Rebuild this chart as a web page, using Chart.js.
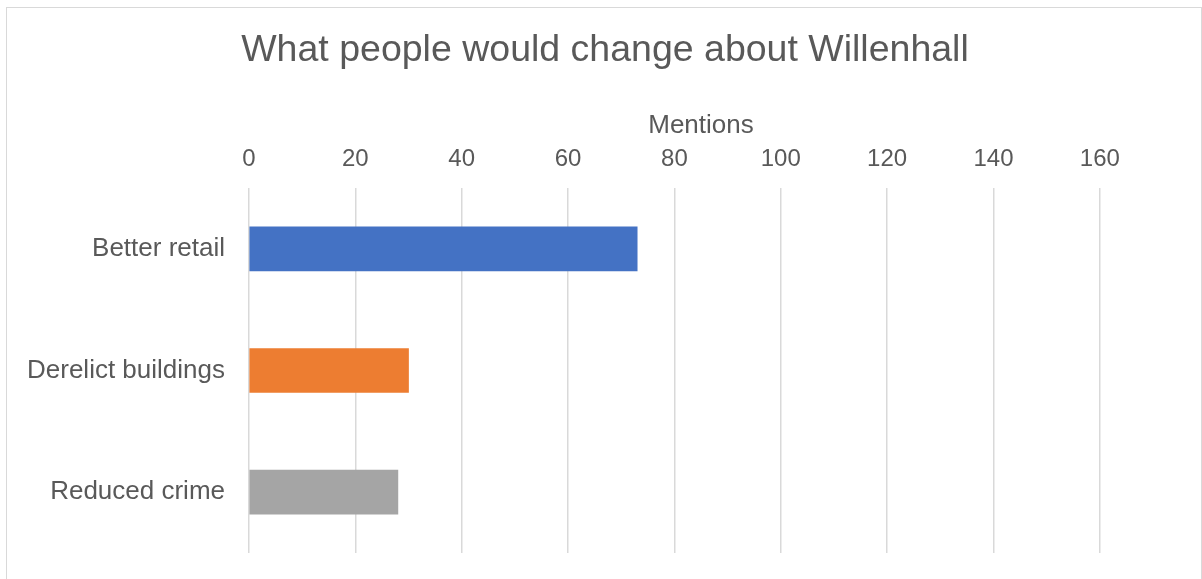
<!DOCTYPE html>
<html>
<head>
<meta charset="utf-8">
<title>What people would change about Willenhall</title>
<script src="https://cdn.jsdelivr.net/npm/chart.js@4/dist/chart.umd.min.js"></script>
<style>
    html, body { margin: 0; padding: 0; background: #fff; }
    #wrap { position: relative; width: 1202px; height: 579px; overflow: hidden; }
    #frame {
        position: absolute; left: 6px; top: 7px; width: 1194px; height: 600px;
        border: 1px solid #d9d9d9; pointer-events: none;
    }
    canvas { position: absolute; left: 0; top: 0; }
</style>
</head>
<body>
<div id="wrap">
    <canvas id="changeChart" width="1202" height="579"></canvas>
    <div id="frame"></div>
</div>
<script>
const chartTitle = "What people would change about Willenhall";
const categories = ["Better retail", "Derelict buildings", "Reduced crime"];
const mentions = [73, 30, 28];
const barColors = ["#4472C4", "#ED7D31", "#A5A5A5"];
const axisMax = 170;
const axisStep = 20;

const textColor = "#595959";
const gridColor = "#d9d9d9";
const fontFamily = "'Liberation Sans', Arial, sans-serif";

// title centred on the whole frame, not on the axis box
const frameTitle = {
    id: "frameTitle",
    afterDraw(chart) {
        const ctx = chart.ctx;
        ctx.save();
        ctx.fillStyle = textColor;
        ctx.font = "37.5px " + fontFamily;
        ctx.textAlign = "center";
        ctx.textBaseline = "middle";
        ctx.fillText(chartTitle, chart.width / 2 + 4, 51);
        ctx.restore();
    }
};

function loadChangeChart() {
    const canvas = document.getElementById("changeChart");
    if (!canvas) return;
    const ctx = canvas.getContext("2d");
    new Chart(ctx, {
        type: "bar",
        data: {
            labels: categories,
            datasets: [{
                label: "Mentions",
                data: mentions,
                backgroundColor: barColors,
                barThickness: 44
            }]
        },
        options: {
            indexAxis: "y",
            responsive: false,
            animation: false,
            layout: {
                padding: { left: 0, right: 49, top: 110, bottom: 26 }
            },
            plugins: {
                legend: { display: false },
                tooltip: { enabled: false },
                title: { display: false }
            },
            scales: {
                x: {
                    position: "top",
                    min: 0,
                    max: axisMax,
                    border: { display: false },
                    grid: { color: gridColor, lineWidth: 1.5, drawTicks: false },
                    ticks: {
                        stepSize: axisStep,
                        includeBounds: false,
                        padding: 14,
                        color: textColor,
                        font: { family: fontFamily, size: 24 }
                    },
                    title: {
                        display: true,
                        text: "Mentions",
                        color: textColor,
                        font: { family: fontFamily, size: 26 },
                        padding: { top: 0, bottom: -10 }
                    }
                },
                y: {
                    border: { display: false },
                    grid: { display: false, drawTicks: false },
                    ticks: {
                        padding: 24,
                        color: textColor,
                        font: { family: fontFamily, size: 26 }
                    },
                    afterFit(scale) {
                        scale.width = 249;
                        scale.paddingTop = 0;
                        scale.paddingBottom = 0;
                    }
                }
            }
        },
        plugins: [frameTitle]
    });
}

document.addEventListener("DOMContentLoaded", () => {
    loadChangeChart();
});
</script>
</body>
</html>
